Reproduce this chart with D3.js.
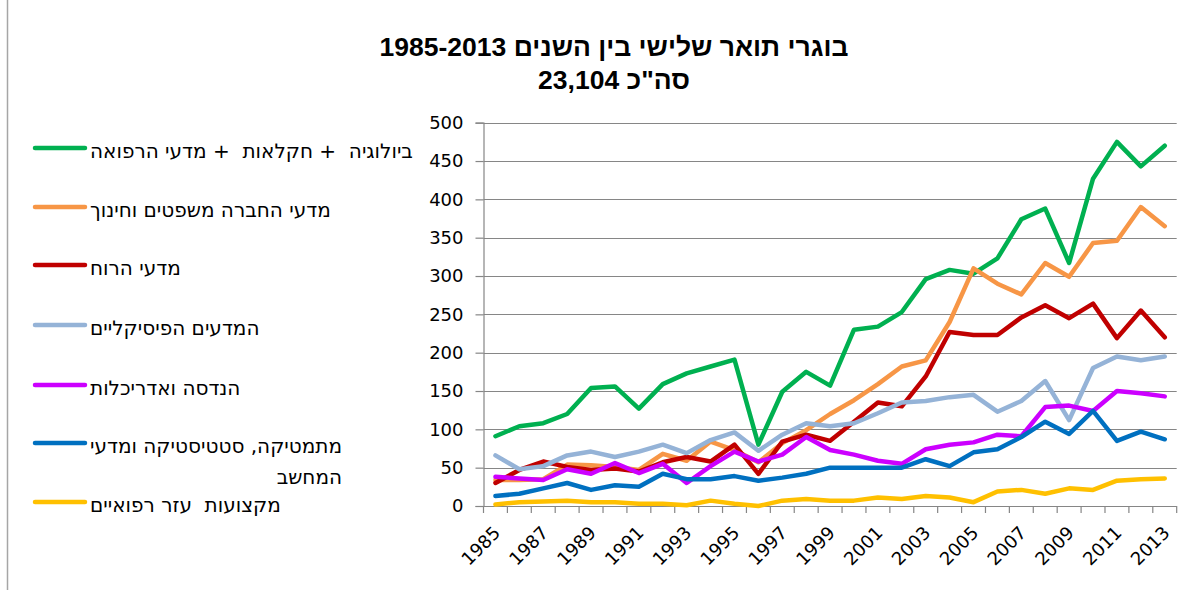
<!DOCTYPE html>
<html><head><meta charset="utf-8">
<script src="https://cdn.jsdelivr.net/npm/d3@7"></script>
<style>
html,body{margin:0;padding:0;background:#fff;}
svg text{white-space:pre;}
</style></head>
<body><svg id="c" width="1199" height="590"></svg>
<script>
const years = d3.range(1985, 2014);
const xTickLabels = years.filter(y => y % 2 === 1);
const yTicks = [0,50,100,150,200,250,300,350,400,450,500];
const titleLines = ["בוגרי תואר שלישי בין השנים 1985-2013", "סה\"כ 23,104"];

const seriesNames = [
  ["ביולוגיה  + חקלאות  + מדעי הרפואה"],
  ["מדעי החברה משפטים וחינוך"],
  ["מדעי הרוח"],
  ["המדעים הפיסיקליים"],
  ["הנדסה ואדריכלות"],
  ["מתמטיקה, סטטיסטיקה ומדעי", "המחשב"],
  ["מקצועות  עזר רפואיים"]
];
const seriesColors = ["#00B050","#F79646","#C00000","#95B3D7","#CC00FF","#0070C0","#FFC000"];

const bioAgriMed = [91,104,108,120,154,156,127,159,173,182,191,80,149,175,157,230,234,253,296,308,303,323,374,388,317,427,475,443,470];
const socialLawEdu = [34,34,35,54,53,51,47,68,59,84,73,57,82,99,120,138,159,182,190,240,310,290,276,317,299,343,346,390,365];
const humanities = [30,47,58,51,47,49,45,57,64,58,80,42,84,93,85,110,135,130,169,227,223,223,246,262,245,264,219,255,220];
const physical = [66,48,52,66,71,64,71,80,69,86,96,72,93,108,104,108,121,135,137,142,145,123,137,163,112,180,195,190,195];
const engineering = [38,36,34,48,42,56,43,55,30,52,71,58,67,90,73,67,59,55,74,80,83,93,91,129,131,124,150,147,143];
const mathCS = [13,16,23,30,21,27,25,42,35,35,39,33,37,42,50,50,50,50,61,52,70,74,90,110,94,124,85,97,87];
const paramedical = [2,5,6,7,5,5,3,3,1,7,3,0,7,9,7,7,11,9,13,11,5,19,21,16,23,21,33,35,36];

const seriesValues = [bioAgriMed, socialLawEdu, humanities, physical, engineering, mathCS, paramedical];

const svg = d3.select("#c");
const L = 483.5, R = 1176.7, T = 122.7, B = 506;
const axisColor = "#868686";
const numFont = "'DejaVu Sans', sans-serif";

// chart area left border
svg.append("line").attr("x1",7.5).attr("x2",7.5).attr("y1",0).attr("y2",590)
  .attr("stroke","#a6a6a6").attr("stroke-width",1.5);

// title
svg.append("g").selectAll("text").data(titleLines).join("text")
  .attr("x", 614).attr("y", (d, i) => 56 + i * 33)
  .attr("text-anchor","middle").style("direction","rtl")
  .attr("font-family","'Liberation Sans', Arial, sans-serif").attr("font-weight","bold")
  .attr("font-size", 26.5).attr("fill","#000").text(d => d);

const x = d3.scalePoint().domain(years).range([L, R]).padding(0.5);
const step = x.step();
const y = d3.scaleLinear().domain([0, 500]).range([B, T]);

// gridlines
svg.append("g").selectAll("line").data(yTicks.filter(d => d > 0)).join("line")
  .attr("x1", L).attr("x2", R).attr("y1", d => Math.round(y(d)) + 0.5).attr("y2", d => Math.round(y(d)) + 0.5)
  .attr("stroke", axisColor).attr("stroke-width", 1);

// y axis
const yAxis = d3.axisLeft(y).tickValues(yTicks).tickSize(8).tickPadding(12).tickFormat(d3.format("d"));
const gy = svg.append("g").attr("transform", `translate(${L},0)`).call(yAxis);
gy.select(".domain").attr("stroke", axisColor).attr("stroke-width", 1.2);
gy.selectAll(".tick line").attr("stroke", axisColor).attr("stroke-width", 1.2);
gy.selectAll(".tick text").attr("font-family", numFont).attr("font-size", 18).attr("fill", "#000");

// x axis
const boundaries = d3.range(years.length + 1).map(i => L + i * step);
svg.append("line").attr("x1", L).attr("x2", R).attr("y1", B + 0.5).attr("y2", B + 0.5)
  .attr("stroke", axisColor).attr("stroke-width", 1.2);
svg.append("g").selectAll("line").data(boundaries).join("line")
  .attr("x1", d => d).attr("x2", d => d).attr("y1", B).attr("y2", B + 7)
  .attr("stroke", axisColor).attr("stroke-width", 1.2);
svg.append("g").selectAll("text").data(xTickLabels).join("text")
  .attr("transform", d => `translate(${x(d) + 6},${B + 28}) rotate(-45)`)
  .attr("text-anchor", "end").attr("font-family", numFont).attr("font-size", 18).attr("fill", "#000")
  .text(d => d);

// lines
const line = d3.line().x((d, i) => x(years[i])).y(d => y(d));
svg.append("g").selectAll("path").data(seriesValues).join("path")
  .attr("d", d => line(d)).attr("fill", "none")
  .attr("stroke", (d, i) => seriesColors[i]).attr("stroke-width", 4.5)
  .attr("stroke-linejoin", "round").attr("stroke-linecap", "round");

// legend
const legendY = [148, 207, 265, 325, 385, 443, 502];
const lg = svg.append("g");
seriesNames.forEach((names, i) => {
  lg.append("line").attr("x1", 35).attr("x2", 85).attr("y1", legendY[i]).attr("y2", legendY[i])
    .attr("stroke", seriesColors[i]).attr("stroke-width", 4.5).attr("stroke-linecap", "round");
  const t0 = lg.append("text").attr("font-family", numFont).attr("font-size", 20).attr("fill", "#000")
    .style("direction","rtl").attr("x", 90).attr("y", legendY[i] + 10).text(names[0]);
  const w = t0.node().getComputedTextLength();
  t0.attr("text-anchor","start").attr("x", 90 + w);
  names.slice(1).forEach((n, j) => {
    lg.append("text").attr("font-family", numFont).attr("font-size", 20).attr("fill", "#000")
      .style("direction","rtl").attr("text-anchor","start").attr("x", 90 + w)
      .attr("y", legendY[i] + 10 + 31 * (j + 1)).text(n);
  });
});
</script></body></html>
